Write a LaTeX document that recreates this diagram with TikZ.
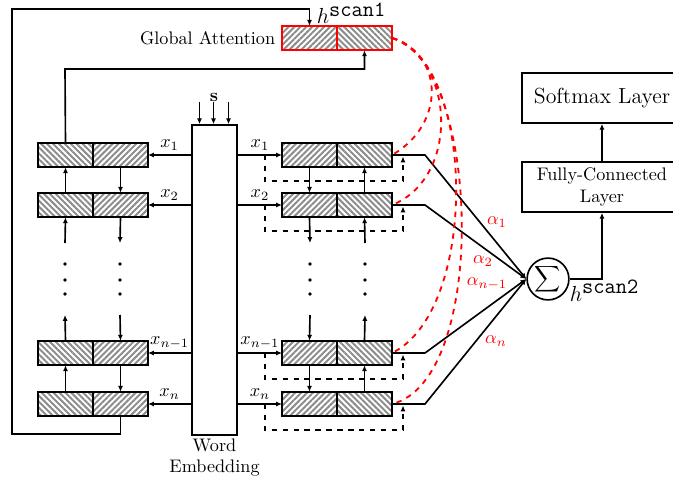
\documentclass[tikz,border=0pt]{standalone}
\usepackage{tikz}
\usetikzlibrary{calc,positioning,arrows.meta,patterns.meta}
\definecolor{hatchgray}{RGB}{140,140,140}
\definecolor{attnred}{RGB}{255,0,0}
\tikzset{
  cell/.style={draw=black, line width=1pt, outer sep=0pt, inner sep=0pt,
               minimum width=30.25pt, minimum height=13.5pt},
  cell ne/.style={cell, pattern={Lines[angle=45,distance=2.3pt,line width=1.1pt]},
                  pattern color=hatchgray},
  cell nw/.style={cell, pattern={Lines[angle=-45,distance=2.3pt,line width=1.1pt]},
                  pattern color=hatchgray},
  flow/.style={->},
  skip/.style={->, dashed},
  attn/.style={dashed, draw=attnred, line width=1pt},
  alpha/.style={text=attnred, inner sep=0pt},
  layerbox/.style={draw, line width=0.9pt, inner sep=2pt, align=center,
                   minimum width=88pt, minimum height=27.5pt},
}

\begin{document}
\begin{tikzpicture}[x=0.55pt, y=-0.55pt, line width=0.9pt,
  >={Latex[length=3.2pt,width=2.8pt]}]
\clip (0,0) rectangle (673,487);
% word embedding column and its input vector
\node[draw, line width=0.9pt, minimum width=24.75pt, minimum height=170.5pt,
      inner sep=0pt] (emb) at (214.5,280) {};
\node[below=0pt of emb, align=center, inner sep=1pt] (emblabel) {Word\\Embedding};
\node (svec) at (214,97) {$\mathbf{s}$};
\foreach \dx [count=\i] in {-15,-1,14} {
  \coordinate (s\i) at ($(emb.north)+(\dx,-22)$);
  \draw[flow] (s\i) -- (s\i |- emb.north);
}
% sum node, the rows point into it
\node[circle, draw, line width=0.9pt, minimum size=23pt, inner sep=0pt]
  (sum) at (548,279) {$\displaystyle\sum$};
\node[font=\large, anchor=base west, inner sep=0pt] (hs2) at (569,301) {$h^{\texttt{scan2}}$};
% global attention cells
\node[cell ne, draw=attnred] (GA-a) at (309.5,38) {};
\node[cell nw, draw=attnred, anchor=west] (GA-b) at (GA-a.east) {};
\node[anchor=east] (galabel) at (GA-a.west) {Global Attention};
\node[font=\large, anchor=base west, inner sep=0pt] (hs1) at (316,24) {$h^{\texttt{scan1}}$};
% both recurrent columns, one row per input word
\foreach \r/\y/\lab in {1/155/1, 2/205/2, m/353/{n-1}, n/404/n} {
  \node[cell nw] (L\r-a) at (65.5,\y) {};
  \node[cell ne, anchor=west] (L\r-b) at (L\r-a.east) {};
  \node[cell ne] (R\r-a) at (309.5,\y) {};
  \node[cell nw, anchor=west] (R\r-b) at (R\r-a.east) {};
  \draw[flow] (emb.west |- L\r-b.east) -- node[above, inner sep=2pt] {$x_{\lab}$} (L\r-b.east);
  \draw[flow] (emb.east |- R\r-a.west) -- node[above, inner sep=2pt] {$x_{\lab}$} (R\r-a.west);
  % skip connection past the cell
  \coordinate (tap\r) at (265,\y);
  \coordinate (join\r) at (403,\y+1.5);
  \draw[skip] (tap\r) -- ++(0,26) -| (join\r);
  % output towards the sum
  \coordinate (bend\r) at (425,\y);
  \draw[flow] (R\r-b.east) -- (bend\r) -- (sum.west);
}
% links between neighbouring rows
\draw[flow] (L2-a.north) -- (L1-a.south);
\draw[flow] (L1-b.south) -- (L2-b.north);
\draw[flow] (Ln-a.north) -- (Lm-a.south);
\draw[flow] (Lm-b.south) -- (Ln-b.north);
\draw[flow] (R1-a.south) -- (R2-a.north);
\draw[flow] (R2-b.north) -- (R1-b.south);
\draw[flow] (Rm-a.south) -- (Rn-a.north);
\draw[flow] (Rn-b.north) -- (Rm-b.south);
% open ends towards the dots
\foreach \c/\x in {la/65, lb/120, ra/310, rb/365} {
  \coordinate (\c-up) at (\x,243);
  \coordinate (\c-dn) at (\x,315);
}
\draw[flow] (la-up) -- (L2-a.south);
\draw[flow] (L2-b.south) -- (lb-up);
\draw[flow] (Lm-a.north) -- (la-dn);
\draw[flow] (lb-dn) -- (Lm-b.north);
\draw[flow] (R2-a.south) -- (ra-up);
\draw[flow] (rb-up) -- (R2-b.south);
\draw[flow] (ra-dn) -- (Rm-a.north);
\draw[flow] (Rm-b.north) -- (rb-dn);
\foreach \dy in {264,280,294}
  \foreach \dx in {65,120,310,365}
    \fill (\dx,\dy) circle[radius=1pt];
% feeds into the global attention
\coordinate (toprun) at (65,69);
\draw[flow] (L1-a.north) -- (toprun) -| (GA-b.south);
\coordinate (loopbot) at (12,434);
\coordinate (looptop) at (12,9);
\draw[flow] (Ln-b.south) |- (loopbot) -- (looptop) -| (GA-a.north);
% attention weights
\foreach \r/\ax/\ay/\bx/\by in {1/445/55/445/125, 2/455/60/460/178,
                                m/475/60/480/310, n/480/60/490/380}
  \draw[attn] (GA-b.east) .. controls (\ax,\ay) and (\bx,\by) .. (R\r-b.east);
\node[alpha] (a1) at (497,222) {$\alpha_1$};
\node[alpha] (a2) at (483,261) {$\alpha_2$};
\node[alpha] (am) at (487,284) {$\alpha_{n-1}$};
\node[alpha] (an) at (496,341) {$\alpha_n$};
% classifier on top of the sum
\node[layerbox] (fc) at (602,187) {Fully-Connected\\Layer};
\node[layerbox, font=\large] (softmax) at (602,98) {Softmax Layer};
\draw[flow] (sum.east) -| (fc.south);
\draw[flow] (fc.north) -- (softmax.south);
\end{tikzpicture}
\end{document}
